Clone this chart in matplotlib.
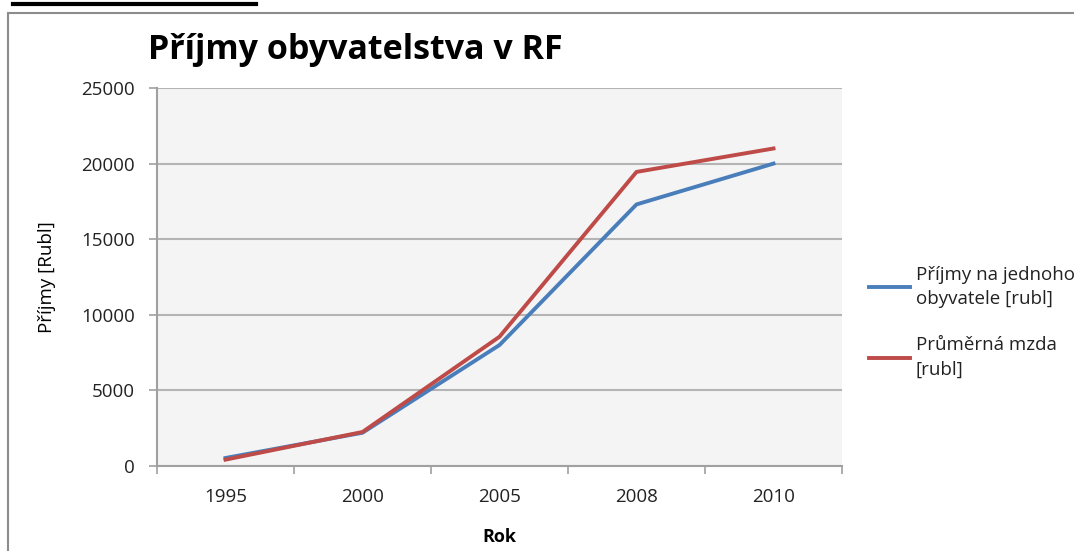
import matplotlib.pyplot as plt
from matplotlib.patches import Rectangle
from matplotlib.lines import Line2D

plt.rcParams['font.family'] = ['Open Sans', 'DejaVu Sans']

# data
roky = ['1995', '2000', '2005', '2008', '2010']
prijmy_na_obyv = [530, 2200, 8000, 17300, 20000]
prumerna_mzda = [420, 2250, 8550, 19450, 21000]

fig = plt.figure(figsize=(10.74, 5.51), dpi=100)

# outer chart frame and the black line above it
fig.patches.append(Rectangle((8 / 1074, -0.1), 1.2, (551 - 13) / 551 + 0.1,
                             transform=fig.transFigure, fill=False,
                             edgecolor='#8c8c8c', linewidth=1.5))
fig.lines.append(Line2D([13 / 1074, 256 / 1074], [1 - 4 / 551, 1 - 4 / 551],
                        transform=fig.transFigure, color='black', linewidth=3))

ax = fig.add_axes([157 / 1074, 85 / 551, 685 / 1074, 378 / 551])
ax.set_facecolor('#f4f4f4')

x = range(len(roky))
ax.plot(x, prijmy_na_obyv, color='#4a7ebb', linewidth=2.8,
        label='Příjmy na jednoho\nobyvatele [rubl]')
ax.plot(x, prumerna_mzda, color='#be4b48', linewidth=2.8,
        label='Průměrná mzda\n[rubl]')

ax.set_xlim(-0.5, len(roky) - 0.5)
ax.set_ylim(0, 25000)
ax.set_yticks(range(0, 25001, 5000))
ax.set_xticks(list(x))
ax.set_xticklabels(roky)
ax.set_xticks([i - 0.5 for i in range(len(roky) + 1)], minor=True)
ax.tick_params(axis='x', which='major', length=0, pad=16, labelsize=13.5, colors='#222222')
ax.tick_params(axis='x', which='minor', length=6, direction='out', color='#a0a0a0', width=1.2)
ax.tick_params(axis='y', length=6, direction='out', color='#a0a0a0', width=1.2,
               labelsize=13.5, pad=10, labelcolor='#222222')

ax.grid(axis='y', color='#b4b4b4', linewidth=1.5)
ax.set_axisbelow(True)
for s in ['top', 'right']:
    ax.spines[s].set_visible(False)
for s in ['left', 'bottom']:
    ax.spines[s].set_color('#a0a0a0')
    ax.spines[s].set_linewidth(1.5)

ax.set_ylabel('Příjmy [Rubl]', fontsize=13.5, labelpad=18)
ax.set_xlabel('Rok', fontsize=13, fontweight='bold', labelpad=16)

fig.text(148 / 1074, 1 - 50 / 551, 'Příjmy obyvatelstva v RF', fontsize=24.5,
         fontweight='bold', va='center', ha='left', color='black')

leg = ax.legend(loc='upper left', bbox_to_anchor=(852 / 1074, 1 - 249 / 551),
                bbox_transform=fig.transFigure, frameon=False, fontsize=13.5,
                handlelength=2.2, handletextpad=0.3, labelspacing=1.5,
                labelcolor='#222222')
for t in leg.get_texts():
    t.set_linespacing(1.45)

fig.savefig('out.png', dpi=100)
